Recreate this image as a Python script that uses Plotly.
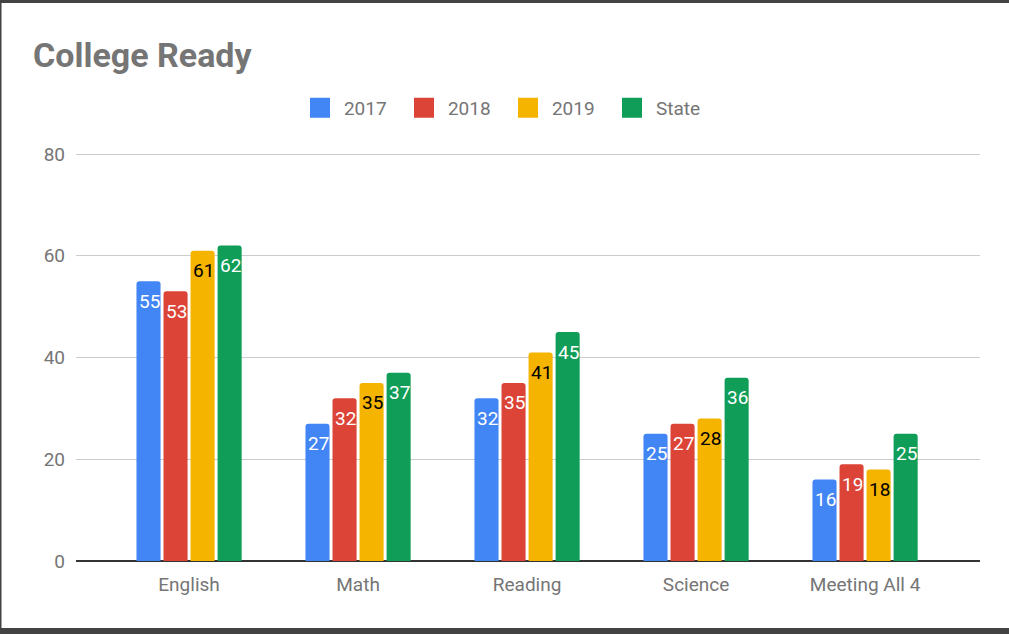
import plotly.graph_objects as go

categories = ["English", "Math", "Reading", "Science", "Meeting All 4"]
series_names = ["2017", "2018", "2019", "State"]
v2017 = [55, 27, 32, 25, 16]
v2018 = [53, 32, 35, 27, 19]
v2019 = [61, 35, 41, 28, 18]
vstate = [62, 37, 45, 36, 25]
y_ticks = [0, 20, 40, 60, 80]

colors = ["#4285F4", "#DB4437", "#F4B400", "#0F9D58"]
text_colors = ["#FFFFFF", "#FFFFFF", "#000000", "#FFFFFF"]
values = [v2017, v2018, v2019, vstate]

FONT = "Roboto"
GREY = "#757575"

W, H = 1009, 634
L, R, T, B = 76, 29, 150, 73
pw, ph = W - L - R, H - T - B
Y_TOP = 80 * ph / 407.0  # keeps 80 at y=154 px while leaving its gridline inside
SLOT = 27  # px per bar slot within a group

fig = go.Figure()
annotations = []
for i, (name, vals, col, tcol) in enumerate(zip(series_names, values, colors, text_colors)):
    fig.add_trace(go.Bar(
        x=categories, y=vals, name=name,
        marker=dict(color=col, cornerradius=3, line=dict(width=0)),
        showlegend=False, hoverinfo="skip",
    ))
    for c, v in zip(categories, vals):
        annotations.append(dict(
            x=c, y=v, xref="x", yref="y", text=str(v), showarrow=False,
            xshift=(i - 1.5) * SLOT + 1, yshift=-20, yanchor="middle",
            font=dict(family=FONT, size=19, color=tcol),
        ))
# legend entries with larger square swatches
for name, col in zip(series_names, colors):
    fig.add_trace(go.Scatter(
        x=[None], y=[None], mode="markers", name="\u2009" + name,
        marker=dict(symbol="square", size=16, color=col, line=dict(color=col, width=4)),
        showlegend=True, hoverinfo="skip",
    ))


def px_x(px):
    return (px - L) / pw


def px_y(py):
    return (H - B - py) / ph


dark = "#434343"
shapes = [
    dict(type="rect", xref="paper", yref="paper", x0=px_x(-20), x1=px_x(W + 20),
         y0=px_y(3), y1=px_y(-20), fillcolor=dark, line_width=0, layer="above"),
    dict(type="rect", xref="paper", yref="paper", x0=px_x(-20), x1=px_x(W + 20),
         y0=px_y(H + 20), y1=px_y(628), fillcolor=dark, line_width=0, layer="above"),
    dict(type="rect", xref="paper", yref="paper", x0=px_x(-20), x1=px_x(1.5),
         y0=px_y(H + 20), y1=px_y(-20), fillcolor=dark, line_width=0, layer="above"),
]

fig.update_layout(
    width=W, height=H,
    margin=dict(l=L, r=R, t=T, b=B, pad=0),
    paper_bgcolor="white", plot_bgcolor="white",
    barmode="group", bargap=0.36, bargroupgap=0.11,
    font=dict(family=FONT, size=18, color=GREY),
    title=dict(text="<b>College Ready</b>", x=33 / W, xanchor="left",
               xref="container", yref="container", y=1 - 55 / H, yanchor="middle",
               font=dict(family=FONT, size=34, color=GREY)),
    legend=dict(orientation="h", x=px_x(508), xanchor="center",
                y=px_y(108), yanchor="middle",
                font=dict(family=FONT, size=19, color=GREY),
                entrywidth=59, entrywidthmode="pixels", bgcolor="rgba(0,0,0,0)"),
    xaxis=dict(type="category", range=[-0.669, 4.68], showgrid=False,
               showline=False, ticks="", ticklabelstandoff=10,
               tickfont=dict(family=FONT, size=19, color=GREY), fixedrange=True),
    yaxis=dict(range=[0, Y_TOP], tickvals=y_ticks, showgrid=True, gridcolor="#CCCCCC",
               gridwidth=1, zeroline=True, zerolinecolor="#333333", zerolinewidth=1.5,
               showline=False, ticks="", ticklabelstandoff=10,
               tickfont=dict(family=FONT, size=19, color=GREY), fixedrange=True),
    shapes=shapes,
    annotations=annotations,
    showlegend=True,
)

fig.write_html("out.html", config={"displayModeBar": False},
               post_script="document.body.style.margin='0';")
